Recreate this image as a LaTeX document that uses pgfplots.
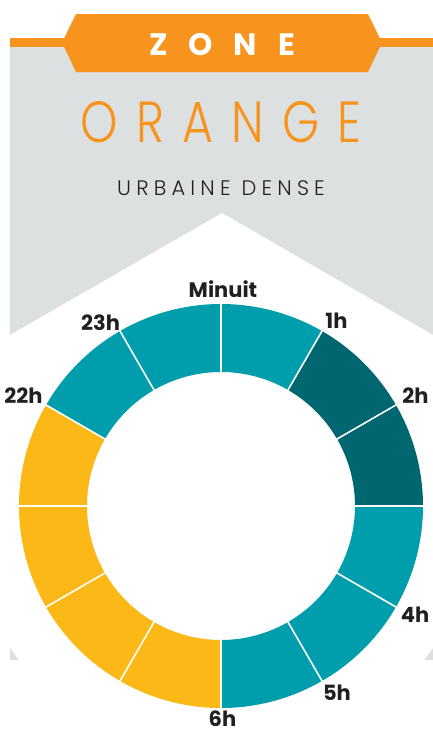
\documentclass[border=0pt]{standalone}
\usepackage{fontspec}
\setmainfont{Poppins}
\newfontfamily\plight{Poppins Light}
\usepackage{pgfplots}
\pgfplotsset{compat=1.18}
\usetikzlibrary{calc}
\definecolor{cteal}{HTML}{009EAD}
\definecolor{cdark}{HTML}{00666F}
\definecolor{cyel}{HTML}{FBB817}
\definecolor{corange}{HTML}{F7941E}
\definecolor{cgrey}{HTML}{DDE0E1}
\definecolor{ctext}{HTML}{231F20}
% one donut segment: start angle, end angle (degrees clockwise from top), colour
\newcommand\seg[3]{%
  \fill[#3] ($(axis cs:221,506)+({90-#1}:202pt)$) arc[start angle={90-#1}, end angle={90-#2}, radius=202pt]
     -- ($(axis cs:221,506)+({90-#2}:134pt)$) arc[start angle={90-#2}, end angle={90-#1}, radius=134pt] -- cycle;}
\newcommand\sep[1]{%
  \draw[white, line width=1.6pt] ($(axis cs:221,506)+({90-#1}:132pt)$) -- ($(axis cs:221,506)+({90-#1}:204pt)$);}
\begin{document}
\begin{tikzpicture}
\begin{axis}[x=1pt, y=1pt, xmin=0, xmax=433, ymin=0, ymax=732, y dir=reverse,
  hide axis, scale only axis, clip=false]
\fill[white] (axis cs:0,0) rectangle (axis cs:433,732);
% grey banner
\fill[cgrey] (axis cs:10,47) rectangle (axis cs:433,660);
\fill[white] (axis cs:222,213) -- (axis cs:10,335) -- (axis cs:10,648) -- (axis cs:19,660)
  -- (axis cs:424,660) -- (axis cs:433,648) -- (axis cs:433,335) -- cycle;
% orange ribbon
\fill[corange] (axis cs:10,38) rectangle (axis cs:433,47);
\fill[corange] (axis cs:76,14) -- (axis cs:368,14) -- (axis cs:382,42.5) -- (axis cs:368,72)
  -- (axis cs:76,72) -- (axis cs:62,42.5) -- cycle;
\node[anchor=base, inner sep=0, text=white, font=\bfseries\fontsize{31}{34}\selectfont]
  at (axis cs:222,55) {Z\hspace{21pt}O\hspace{21pt}N\hspace{21pt}E};
\node[anchor=base, inner sep=0, text=corange] at (axis cs:221,142)
  {\scalebox{0.82}[1]{\plight\fontsize{58}{60}\selectfont O\hspace{22pt}R\hspace{22pt}A\hspace{22pt}N\hspace{22pt}G\hspace{22pt}E}};
\node[anchor=base, inner sep=0, text=ctext] at (axis cs:221,195)
  {\plight\fontsize{21}{24}\selectfont U\hspace{5.2pt}R\hspace{5.2pt}B\hspace{5.2pt}A\hspace{5.2pt}I\hspace{5.2pt}N\hspace{5.2pt}E\hspace{11pt}D\hspace{5.2pt}E\hspace{5.2pt}N\hspace{5.2pt}S\hspace{5.2pt}E};
% donut: 12 segments
\seg{0}{30}{cteal}
\seg{30}{60}{cdark}
\seg{60}{90}{cdark}
\seg{90}{120}{cteal}
\seg{120}{150}{cteal}
\seg{150}{180}{cteal}
\seg{180}{210}{cyel}
\seg{210}{240}{cyel}
\seg{240}{270}{cyel}
\seg{270}{300}{cyel}
\seg{300}{330}{cteal}
\seg{330}{360}{cteal}
\sep{0}\sep{30}\sep{60}\sep{90}\sep{120}\sep{150}
\sep{180}\sep{210}\sep{240}\sep{270}\sep{300}\sep{330}
% hour labels
\tikzset{hl/.style={anchor=base, inner sep=0, text=ctext, font=\bfseries\fontsize{21}{24}\selectfont}}
\node[hl] at (axis cs:223,297) {Minuit};
\node[hl] at (axis cs:336.5,328) {1h};
\node[hl] at (axis cs:415.5,403) {2h};
\node[hl] at (axis cs:415,622) {4h};
\node[hl] at (axis cs:337,700) {5h};
\node[hl] at (axis cs:222.5,726) {6h};
\node[hl] at (axis cs:23.5,403) {22h};
\node[hl] at (axis cs:100.5,330) {23h};
\end{axis}
\end{tikzpicture}
\end{document}
